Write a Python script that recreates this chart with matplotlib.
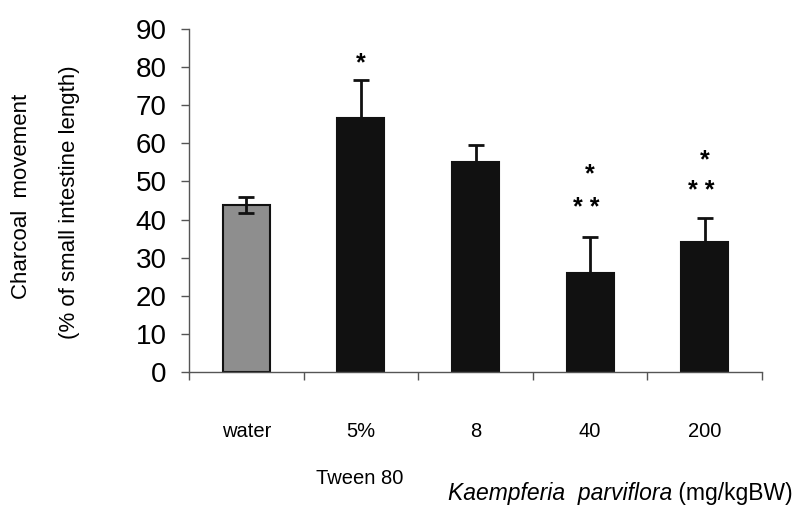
import numpy as np
import matplotlib.pyplot as plt

plt.rcParams['font.family'] = ['Liberation Sans', 'DejaVu Sans']

# charcoal movement, % of small intestine length (mean, SEM)
groups = ['water', '5%', '8', '40', '200']
means = [43.8, 66.6, 55.0, 26.0, 34.0]
sems = [2.0, 10.0, 4.5, 9.5, 6.4]
stars_upper = ['', '*', '', '*', '*']
stars_lower = ['', '', '', '* *', '* *']
star_upper_y = [0, 81.0, 0, 51.8, 55.5]
star_lower_y = [0, 0, 0, 43.0, 47.5]

fig = plt.figure(figsize=(8, 5.14), dpi=100)
ax = fig.add_axes([0.23625, 0.2763, 0.71625, 0.6673])

x = np.arange(len(groups))
colors = ['#8e8e8e'] + ['#111111'] * (len(groups) - 1)
ax.bar(x, means, width=0.41, color=colors, edgecolor='#111111', linewidth=1.5, zorder=2)
ax.errorbar(x, means, yerr=sems, fmt='none', ecolor='#111111', elinewidth=2,
            capsize=6, capthick=2, zorder=3)

for xi, s, yv in zip(x, stars_upper, star_upper_y):
    if s:
        ax.text(xi, yv, s, ha='center', va='center', fontsize=18, fontweight='bold')
for xi, s, yv in zip(x, stars_lower, star_lower_y):
    if s:
        ax.text(xi - 0.03, yv, s, ha='center', va='center', fontsize=18, fontweight='bold')

ax.set_xlim(-0.5, 4.5)
ax.set_ylim(0, 90)
ax.set_yticks(np.arange(0, 91, 10))
ax.tick_params(axis='y', labelsize=20, length=6, width=1, color='#555555', pad=10)

# category labels sit well below the axis, ticks mark the group boundaries
ax.set_xticks(x)
ax.set_xticklabels(groups)
ax.tick_params(axis='x', which='major', length=0, labelsize=14.5, pad=36)
ax.set_xticks(np.arange(-0.5, 4.6, 1), minor=True)
ax.tick_params(axis='x', which='minor', length=6, width=1, color='#555555')

for side in ['top', 'right']:
    ax.spines[side].set_visible(False)
for side in ['left', 'bottom']:
    ax.spines[side].set_color('#555555')
    ax.spines[side].set_linewidth(1)

fig.text(0.0275, 0.617, 'Charcoal  movement', rotation=90, ha='center', va='center', fontsize=16)
fig.text(0.0875, 0.607, '(% of small intestine length)', rotation=90, ha='center', va='center', fontsize=16)

fig.text(0.449, 0.07, 'Tween 80', ha='center', va='center', fontsize=14.5)

# species name in italics, dose unit upright right after it
sp = fig.text(0.56, 0.04, 'Kaempferia  parviflora', ha='left', va='center',
              fontsize=16.5, style='italic')
fig.canvas.draw()
bb = sp.get_window_extent().transformed(fig.transFigure.inverted())
fig.text(bb.x1, 0.04, ' (mg/kgBW)', ha='left', va='center', fontsize=16.5)

fig.savefig('out.png', dpi=100)
